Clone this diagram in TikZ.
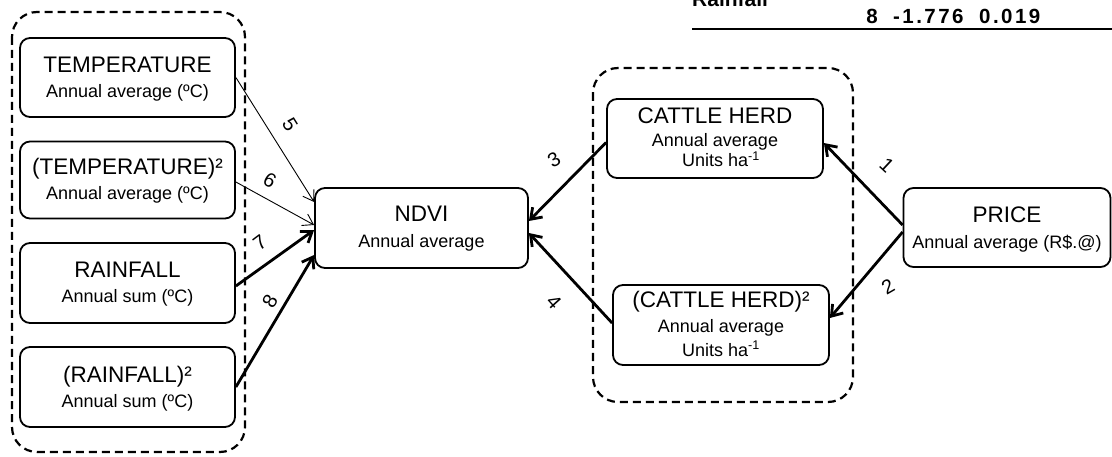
\documentclass[tikz,border=0pt]{standalone}
\usepackage{fontspec}
\setmainfont{Liberation Sans}
\usetikzlibrary{arrows.meta}
\begin{document}
\begin{tikzpicture}[x=1pt,y=-1pt,
 box/.style={draw, line width=1.8pt, rounded corners=10pt, minimum width=215pt, minimum height=79pt, inner sep=0pt},
 grp/.style={draw, line width=2.2pt, dash pattern=on 8pt off 5pt, rounded corners=25pt},
 tt/.style={font=\fontsize{22.5}{26}\selectfont, inner sep=0pt, anchor=base},
 st/.style={font=\fontsize{18}{21}\selectfont, inner sep=0pt, anchor=base},
 lab/.style={font=\fontsize{20}{23}\selectfont, inner sep=0pt},
 tab/.style={font=\bfseries\fontsize{20.5}{23}\selectfont\addfontfeature{LetterSpace=12}, inner sep=0pt, anchor=base},
 thinarr/.style={-{Straight Barb[length=10pt,width=13pt]}, line width=0.9pt},
 thickarr/.style={-{Straight Barb[length=10pt,width=14pt]}, line width=2.8pt}]
\useasboundingbox (0,0) rectangle (1112,457);
\clip (0,0) rectangle (1112,457);

% table fragment
\node[inner sep=0pt, anchor=base west, font=\bfseries\fontsize{21}{24}\selectfont] (tr) at (692,7) {Rainfall};
\node[tab] (t8) at (872,24) {8};
\node[tab, anchor=base west] (t1) at (893,24) {-1.776};
\node[tab, anchor=base west] (t2) at (979,24) {0.019};
\coordinate (la) at (692,29);
\coordinate (lb) at (1112,29);
\draw[line width=2pt] (la) -- (lb);

% group boxes
\draw[grp] (12,12) rectangle (245,452);
\draw[grp] (593,68) rectangle (853,402);

% boxes
\node[box] (temp) at (127.5,77.5) {};
\node[tt] (tempT) at ([yshift=5pt]temp.center) {TEMPERATURE};
\node[st] (tempS) at ([yshift=-20pt]temp.center) {Annual average (ºC)};

\node[box, minimum height=77pt] (temp2) at (127.5,180) {};
\node[tt] (temp2T) at ([yshift=5pt]temp2.center) {(TEMPERATURE)²};
\node[st] (temp2S) at ([yshift=-20pt]temp2.center) {Annual average (ºC)};

\node[box, minimum height=80pt] (rain) at (127.5,283) {};
\node[tt] (rainT) at ([yshift=5pt]rain.center) {RAINFALL};
\node[st] (rainS) at ([yshift=-20pt]rain.center) {Annual sum (ºC)};

\node[box, minimum height=80pt] (rain2) at (127.5,387) {};
\node[tt] (rain2T) at ([yshift=5pt]rain2.center) {(RAINFALL)²};
\node[st] (rain2S) at ([yshift=-20pt]rain2.center) {Annual sum (ºC)};

\node[box, minimum width=213pt, minimum height=80pt] (ndvi) at (421.5,228) {};
\node[tt] (ndviT) at ([yshift=6pt]ndvi.center) {NDVI};
\node[st] (ndviS) at ([yshift=-20pt]ndvi.center) {Annual average};

\node[box, minimum width=216pt] (cattle) at (715,138.5) {};
\node[tt] (cattleT) at ([yshift=15pt]cattle.center) {CATTLE HERD};
\node[st] (cattleS) at ([yshift=-8pt]cattle.center) {Annual average};
\node[st] (cattleU) at ([xshift=6pt,yshift=-28pt]cattle.center) {Units ha\textsuperscript{-1}};

\node[box, minimum width=216pt, minimum height=80pt] (cattle2) at (721,325) {};
\node[tt] (cattle2T) at ([yshift=17pt]cattle2.center) {(CATTLE HERD)²};
\node[st] (cattle2S) at ([yshift=-7pt]cattle2.center) {Annual average};
\node[st] (cattle2U) at ([yshift=-31pt]cattle2.center) {Units ha\textsuperscript{-1}};

\node[box, minimum width=207pt] (price) at (1007,227.5) {};
\node[tt] (priceT) at ([yshift=5pt]price.center) {PRICE};
\node[st] (priceS) at ([yshift=-21pt]price.center) {Annual average (R\$.@)};

% connectors
\draw[thinarr] (temp.east) -- ([yshift=26pt]ndvi.west);
\draw[thinarr] ([yshift=-2pt]temp2.east) -- ([yshift=3pt]ndvi.west);
\draw[thickarr] ([yshift=-3pt]rain.east) -- ([yshift=-2pt]ndvi.west);
\draw[thickarr] (rain2.east) -- ([yshift=-27pt]ndvi.west);
\draw[thickarr] ([yshift=-4pt]cattle.west) -- ([yshift=7pt]ndvi.east);
\draw[thickarr] ([yshift=2pt]cattle2.west) -- ([yshift=-5pt]ndvi.east);
\draw[thickarr] ([yshift=2.5pt]price.west) -- ([yshift=-4.5pt]cattle.east);
\draw[thickarr] ([yshift=-4.5pt]price.west) -- ([yshift=7pt]cattle2.east);

% labels
\node[lab, rotate=-58] (l5) at (290,125) {5};
\node[lab, rotate=-30] (l6) at (270,180) {6};
\node[lab, rotate=37] (l7) at (260,243) {7};
\node[lab, rotate=60] (l8) at (270,301) {8};
\node[lab, rotate=30] (l3) at (554,160) {3};
\node[lab, rotate=-48] (l4) at (554,302) {4};
\node[lab, rotate=-43] (l1) at (887,165) {1};
\node[lab, rotate=30] (l2) at (888,287) {2};
\end{tikzpicture}
\end{document}
